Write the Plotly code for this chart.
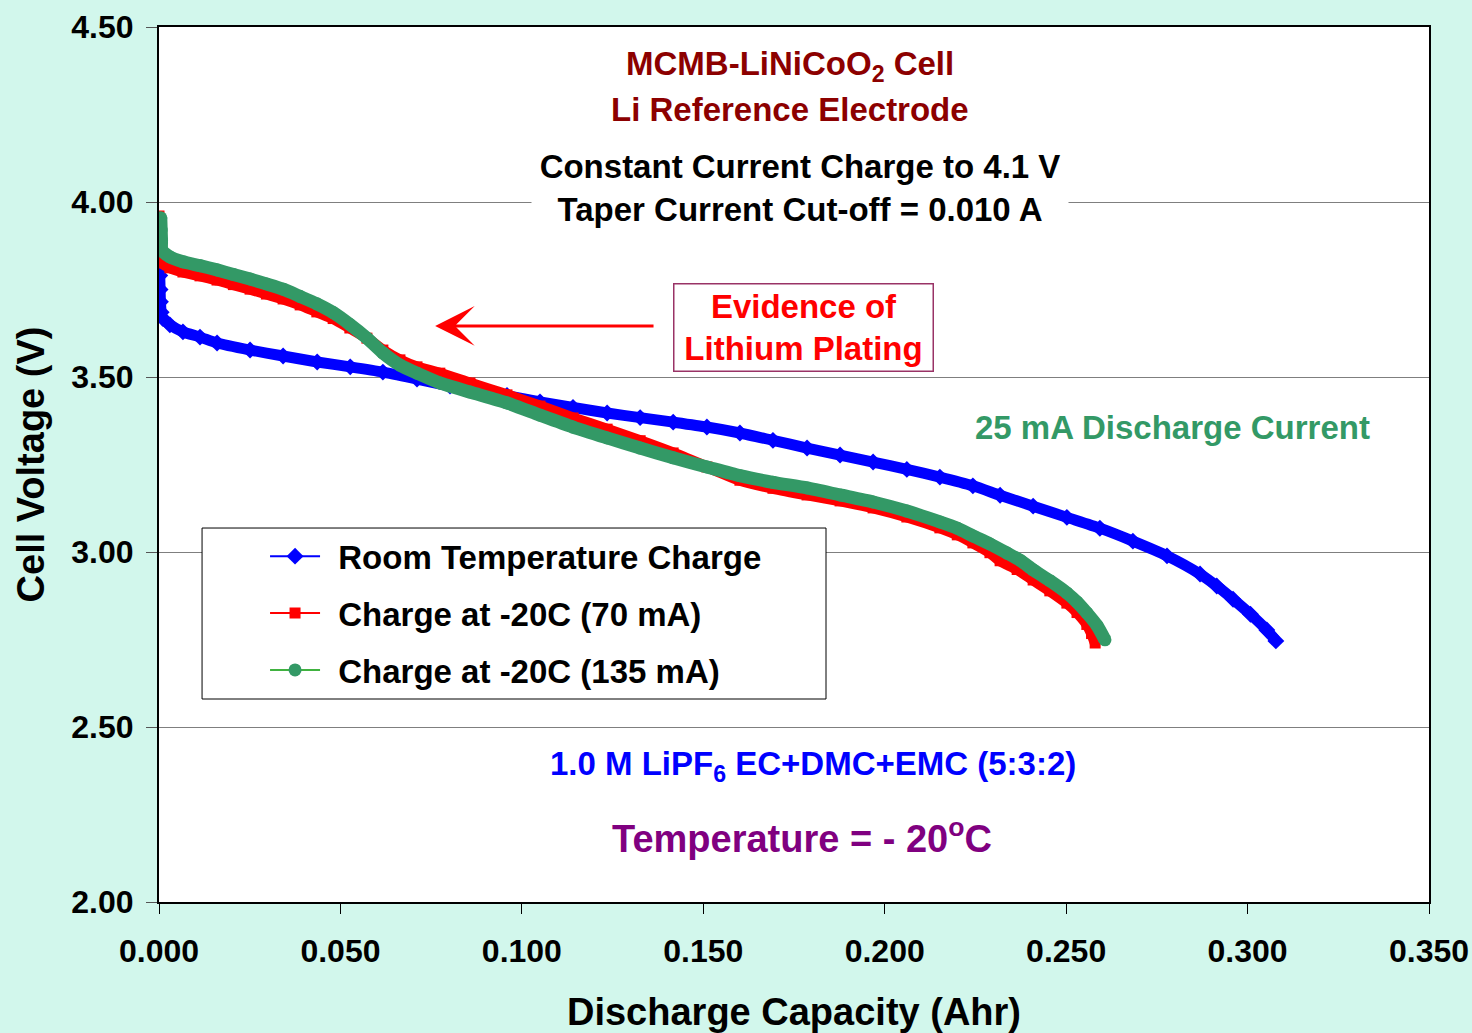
import plotly.graph_objects as go

# Discharge capacity (Ahr) and cell voltage (V) for each charge condition
rt_capacity = [0.0000, 0.0002, 0.0003, 0.0004, 0.0006, 0.0010, 0.0030, 0.0066, 0.0113, 0.0160,
               0.0251, 0.0342, 0.0436, 0.0527, 0.0617, 0.0711, 0.0802, 0.0865, 0.0959, 0.1050,
               0.1141, 0.1235, 0.1326, 0.1417, 0.1510, 0.1601, 0.1692, 0.1786, 0.1877, 0.1968,
               0.2061, 0.2152, 0.2243, 0.2318, 0.2409, 0.2502, 0.2593, 0.2684, 0.2778, 0.2869,
               0.2915, 0.2960, 0.3008, 0.3053, 0.3078]
rt_voltage = [3.830, 3.790, 3.750, 3.715, 3.685, 3.668, 3.649, 3.629, 3.614, 3.597,
              3.577, 3.560, 3.543, 3.529, 3.514, 3.494, 3.474, 3.462, 3.447, 3.429,
              3.413, 3.397, 3.384, 3.371, 3.357, 3.340, 3.319, 3.297, 3.277, 3.257,
              3.236, 3.214, 3.189, 3.162, 3.131, 3.099, 3.068, 3.031, 2.989, 2.937,
              2.903, 2.865, 2.822, 2.777, 2.746]

c70_capacity = [0.0000, 0.0001, 0.0002, 0.0003, 0.0004, 0.0008, 0.0030, 0.0066, 0.0113, 0.0160,
                0.0205, 0.0251, 0.0296, 0.0342, 0.0389, 0.0435, 0.0480, 0.0526, 0.0573, 0.0617,
                0.0664, 0.0711, 0.0774, 0.0857, 0.0959, 0.1050, 0.1141, 0.1235, 0.1326, 0.1417,
                0.1510, 0.1601, 0.1692, 0.1786, 0.1877, 0.1968, 0.2061, 0.2152, 0.2200, 0.2243,
                0.2290, 0.2318, 0.2365, 0.2409, 0.2455, 0.2502, 0.2530, 0.2557, 0.2570, 0.2580]
c70_voltage = [3.960, 3.930, 3.900, 3.870, 3.845, 3.826, 3.812, 3.800, 3.789, 3.777,
               3.764, 3.751, 3.737, 3.723, 3.706, 3.686, 3.667, 3.640, 3.611, 3.577,
               3.549, 3.529, 3.511, 3.483, 3.449, 3.417, 3.383, 3.351, 3.318, 3.283,
               3.243, 3.205, 3.182, 3.163, 3.146, 3.126, 3.100, 3.069, 3.049, 3.026,
               2.998, 2.975, 2.950, 2.920, 2.889, 2.854, 2.827, 2.793, 2.767, 2.740]

c135_capacity = [0.0005, 0.0006, 0.0007, 0.0008, 0.0030, 0.0066, 0.0113, 0.0160, 0.0205, 0.0251,
                 0.0296, 0.0342, 0.0389, 0.0435, 0.0480, 0.0526, 0.0573, 0.0617, 0.0664, 0.0711,
                 0.0774, 0.0857, 0.0959, 0.1050, 0.1141, 0.1235, 0.1326, 0.1417, 0.1510, 0.1601,
                 0.1692, 0.1786, 0.1877, 0.1968, 0.2061, 0.2152, 0.2200, 0.2243, 0.2290, 0.2337,
                 0.2375, 0.2409, 0.2455, 0.2502, 0.2530, 0.2557, 0.2585, 0.2607]
c135_voltage = [3.955, 3.920, 3.890, 3.862, 3.843, 3.829, 3.818, 3.806, 3.793, 3.780,
                3.766, 3.751, 3.730, 3.709, 3.684, 3.650, 3.611, 3.569, 3.534, 3.511,
                3.483, 3.457, 3.426, 3.391, 3.357, 3.326, 3.297, 3.269, 3.243, 3.218,
                3.199, 3.183, 3.163, 3.143, 3.117, 3.086, 3.068, 3.046, 3.023, 2.997,
                2.975, 2.949, 2.918, 2.883, 2.857, 2.826, 2.790, 2.749]

x_ticks = [0.0, 0.05, 0.10, 0.15, 0.20, 0.25, 0.30, 0.35]
y_ticks = [2.0, 2.5, 3.0, 3.5, 4.0, 4.5]

FONT = "Liberation Sans, Arial, sans-serif"
BLUE = "#0000FF"
RED = "#FF0000"
SEA = "#339966"
GAP = "\u2009\u2009"  # small gap between legend symbol and label

series = [
    ("Room Temperature Charge", rt_capacity, rt_voltage, BLUE, BLUE, "diamond", 13, 11, 2),
    ("Charge at -20C (70 mA)", c70_capacity, c70_voltage, RED, RED, "square", 11, 11, 2),
    ("Charge at -20C (135 mA)", c135_capacity, c135_voltage, SEA, "#009900", "circle", 13, 13, 1.5),
]

fig = go.Figure()
for name, xs, ys, mcolor, lcolor, symbol, msize, band, lw in series:
    fig.add_trace(go.Scatter(x=xs, y=ys, mode="lines+markers", name=GAP + name, legendgroup=name,
                             line=dict(color=lcolor, width=lw),
                             marker=dict(symbol=symbol, size=msize, color=mcolor,
                                         line=dict(width=0))))
    # dense marker band drawn as a thick line over the sample points
    fig.add_trace(go.Scatter(x=xs, y=ys, mode="lines", showlegend=False, hoverinfo="skip",
                             legendgroup=name,
                             line=dict(color=mcolor, width=band, shape="spline", smoothing=0.6)))

annotations = [
    dict(x=0.1739, y=4.389, text="<b>MCMB-LiNiCoO<sub>2</sub> Cell</b>",
         font=dict(size=33, color="#8C0000")),
    dict(x=0.1739, y=4.263, text="<b>Li Reference Electrode</b>",
         font=dict(size=33, color="#8C0000")),
    dict(x=0.1766, y=4.041,
         text="<b>Constant Current Charge to 4.1 V</b><br><b>Taper Current Cut-off = 0.010 A</b>",
         font=dict(size=33, color="black"), bgcolor="white", borderpad=4, width=528),
    dict(x=0.1775, y=3.641, text="<b>Evidence of</b><br><b>Lithium Plating</b>",
         font=dict(size=33, color=RED), bgcolor="white", bordercolor="#993366",
         borderwidth=1.5, borderpad=3, width=252),
    dict(x=0.2792, y=3.357, text="<b>25 mA Discharge Current</b>",
         font=dict(size=33, color=SEA)),
    dict(x=0.1802, y=2.389, text="<b>1.0 M LiPF<sub>6</sub> EC+DMC+EMC (5:3:2)</b>",
         font=dict(size=33, color=BLUE)),
    dict(x=0.1772, y=2.189, text="<b>Temperature = - 20<sup>o</sup>C</b>",
         font=dict(size=38, color="#800080")),
]
for a in annotations:
    a.update(xref="x", yref="y", showarrow=False)
    a["font"]["family"] = FONT

# arrow pointing at the plating plateau
annotations.append(dict(x=0.0761, y=3.646, ax=0.1367, ay=3.646, xref="x", yref="y",
                        axref="x", ayref="y", text="", showarrow=True, arrowhead=3,
                        arrowsize=2.2, arrowwidth=3, arrowcolor=RED))

fig.update_layout(
    width=1472, height=1033,
    margin=dict(l=159, r=43, t=27, b=131),
    paper_bgcolor="#D2F7EC", plot_bgcolor="white",
    font=dict(family=FONT, color="black"),
    annotations=annotations,
    shapes=[dict(type="rect", xref="paper", yref="paper", x0=0.0339, x1=0.5252,
                 y0=0.2320, y1=0.4274, fillcolor="white",
                 line=dict(color="black", width=1), layer="above")],
    showlegend=True,
    legend=dict(x=0.0835, y=0.4272, xanchor="left", yanchor="top", itemwidth=50,
                bgcolor="rgba(0,0,0,0)", borderwidth=0, tracegroupgap=11,
                font=dict(family=FONT, size=33, color="black", weight="bold")),
    xaxis=dict(range=[0, 0.35], tickvals=x_ticks, tickformat=".3f", automargin=False,
               ticks="outside", ticklen=10, tickcolor="black", tickwidth=1,
               ticklabelstandoff=10,
               showline=True, linecolor="black", linewidth=2, mirror=True,
               showgrid=False, zeroline=False,
               tickfont=dict(family=FONT, size=32, color="black", weight="bold"),
               title=dict(text="Discharge Capacity (Ahr)", standoff=30,
                          font=dict(family=FONT, size=38, color="black", weight="bold"))),
    yaxis=dict(range=[2, 4.5], tickvals=y_ticks, tickformat=".2f", automargin=False,
               ticks="outside", ticklen=11, tickcolor="#555555", tickwidth=1,
               ticklabelstandoff=6,
               showline=True, linecolor="black", linewidth=2, mirror=True,
               showgrid=True, gridcolor="#7F7F7F", gridwidth=1.3, zeroline=False,
               tickfont=dict(family=FONT, size=32, color="black", weight="bold"),
               title=dict(text="Cell Voltage (V)", standoff=15,
                          font=dict(family=FONT, size=38, color="black", weight="bold"))),
)

fig.write_html("out.html")
